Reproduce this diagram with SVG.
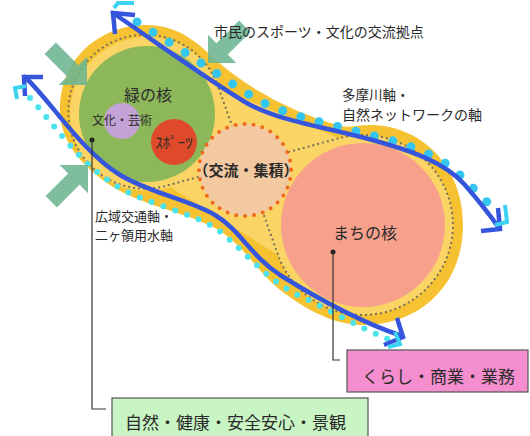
<svg xmlns="http://www.w3.org/2000/svg" width="530" height="436" viewBox="0 0 530 436">
<style>
.t{font-family:"Noto Sans CJK JP","Noto Sans CJK SC",sans-serif;fill:#2a2a2a}
.blue{fill:none;stroke:#3556dc;stroke-width:4.5;stroke-linecap:round}
.bhead{fill:none;stroke:#3556dc;stroke-width:4.5;stroke-linejoin:miter}
.chead{fill:none;stroke:#3cd2f2;stroke-width:4}
.gdot{fill:none;stroke:#77705a;stroke-width:2;stroke-dasharray:2 3}
.lead{fill:none;stroke:#333;stroke-width:1.2}
.garrow{fill:#6cb592;opacity:0.88}
</style>
<defs>
<polygon id="ga" points="0,0 -20,-20 -20,-8 -52,-8 -52,8 -20,8 -20,20"/>
</defs>
<rect width="530" height="436" fill="#fff"/>
<g id="zone">
<path d="M60,110 C60,58 100,25 147,25 C180,25 200,45 218,62 Q270,106 340,126 C350,128 358,125 370,125 C420,125 463,165 463,225 C463,285 420,325 363,325 C330,325 300,305 280,290 C255,270 245,245 215,228 C185,212 140,205 110,185 C80,165 60,140 60,110 Z" fill="#f7c232"/>
<circle cx="147" cy="114" r="77" fill="#fad565"/>
<circle cx="363" cy="225" r="90" fill="#fad565"/>
<polygon points="218.6,87.9 339,138.2 278.1,255.1 167.9,185.3" fill="#fad565"/>
<path class="gdot" d="M218.6,87.9 L278.1,255.1 A90,90 0 1 0 339,138.2 L167.9,185.3 A77,77 0 1 1 218.6,87.9"/>
</g>
<g id="node-green">
<circle cx="147" cy="114" r="68" fill="#8cb85a"/>
<text class="t" x="148" y="101" font-size="16" text-anchor="middle">緑の核</text>
</g>
<g id="node-culture">
<circle cx="122" cy="121" r="18" fill="#c3a2d6"/>
<text class="t" x="122" y="125" font-size="12" text-anchor="middle">文化・芸術</text>
</g>
<g id="node-sports">
<circle cx="174" cy="142" r="23" fill="#df4a2a"/>
<text class="t" x="174" y="148" font-size="15" text-anchor="middle">ｽﾎﾟｰﾂ</text>
</g>
<g id="node-exchange">
<circle cx="245" cy="170" r="46" fill="#f2c9a0" stroke="#f06a1e" stroke-width="4" stroke-dasharray="0 9" stroke-linecap="round"/>
<text class="t" x="246" y="176" font-size="15" font-weight="bold" text-anchor="middle">（交流・集積）</text>
</g>
<g id="node-town">
<circle cx="363" cy="225" r="82" fill="#f7a18c"/>
<text class="t" x="365" y="239" font-size="16" text-anchor="middle">まちの核</text>
</g>
<g id="connectors">
<path d="M137,22 L186,53 L222,77 L256,99 Q280,112 320,122 L390,140 Q440,154 462,177 L490,205" fill="none" stroke="#35c6f0" stroke-width="9" stroke-dasharray="0 19" stroke-linecap="round"/>
<path d="M30,98 C55,125 80,165 120,188 C150,205 190,212 215,228 C240,245 265,280 300,296 C330,310 360,328 388,339" fill="none" stroke="#4de3ec" stroke-width="6" stroke-dasharray="0 12.5" stroke-linecap="round"/>
<path class="blue" d="M113,13 C150,38 205,78 245,102 C275,120 320,126 365,138 C410,150 445,162 465,185 C478,200 490,215 499,228"/>
<path class="blue" d="M25,77 C50,100 80,150 120,175 C150,193 190,200 215,215 C240,230 250,255 280,275 C320,300 360,322 402,336"/>
<polyline class="bhead" points="115,34 113,13 135,15"/>
<polyline class="bhead" points="43,77 24,77 25,96"/>
<polyline class="bhead" points="481,231 500,229 498,208"/>
<polyline class="bhead" points="397,318 403,337 384,345"/>
<polyline class="chead" points="114,8 118,3 134,3"/>
<polyline class="chead" points="26,86 15,88 17,99"/>
<polyline class="chead" points="495,225 507,222 505,205"/>
<polyline class="chead" points="388,347 400,344 395,332"/>
<use href="#ga" class="garrow" transform="translate(87,85) rotate(45)"/>
<use href="#ga" class="garrow" transform="translate(88,165) rotate(-45)"/>
<use href="#ga" class="garrow" transform="translate(208,63) rotate(135)"/>
<circle cx="92" cy="140" r="2.5" fill="#222"/>
<polyline class="lead" points="92,140 92,409 106,409"/>
<circle cx="333" cy="252" r="2.5" fill="#222"/>
<polyline class="lead" points="333,252 333,360 340,360"/>
</g>
<g id="labels">
<text class="t" x="214" y="37" font-size="14">市民のスポーツ・文化の交流拠点</text>
<text class="t" x="342" y="100" font-size="13.5">多摩川軸・</text>
<text class="t" x="342" y="120" font-size="14">自然ネットワークの軸</text>
<text class="t" x="95" y="221" font-size="13">広域交通軸・</text>
<text class="t" x="95" y="240" font-size="13">二ヶ領用水軸</text>
</g>
<g id="box-living">
<rect x="347" y="350" width="181" height="42" fill="#f48ecf" stroke="#555" stroke-width="1.2"/>
<text class="t" x="362" y="383" font-size="17">くらし・商業・業務</text>
</g>
<g id="box-nature">
<rect x="112" y="398" width="256" height="50" fill="#c8f5c3" stroke="#555" stroke-width="1.2"/>
<text class="t" x="125" y="429" font-size="17">自然・健康・安全安心・景観</text>
</g>
</svg>
